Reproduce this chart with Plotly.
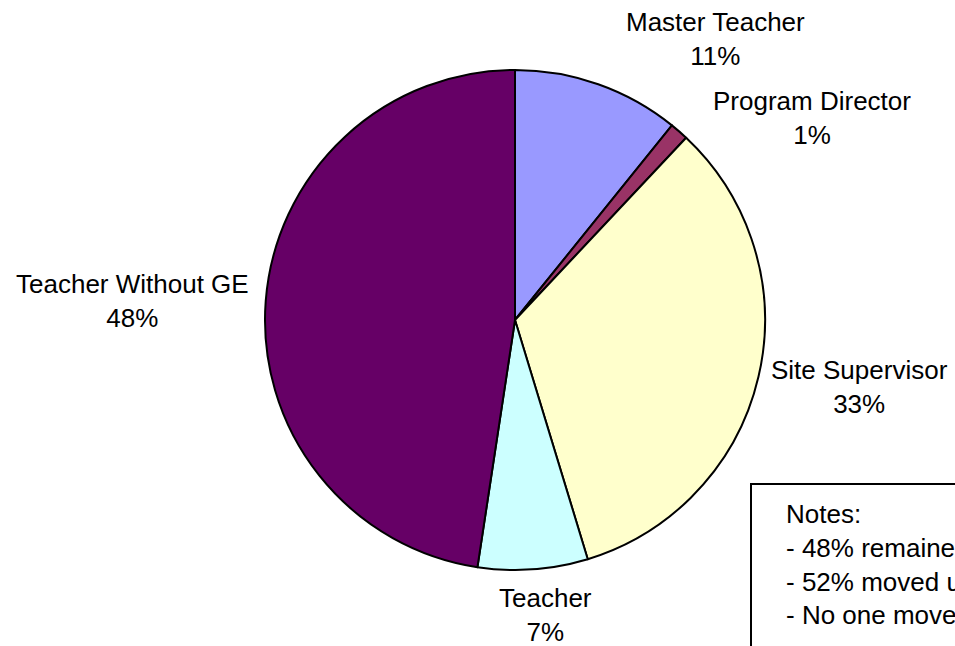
import plotly.graph_objects as go

# Data
categories = ["Master Teacher", "Program Director", "Site Supervisor", "Teacher", "Teacher Without GE"]
shares = [10.8, 1.2, 33.3, 7.1, 47.6]
colors = ["#9999FF", "#993366", "#FFFFCC", "#CCFFFF", "#660066"]
notes_lines = ["Notes:", "- 48% remained in the same position", "- 52% moved up", "- No one moved down"]

W, H = 955, 646
# label centres (pixels) as placed in the reference
label_pos = [(715, 39), (812, 118), (859, 387), (545, 615), (132, 301)]

cx, cy, r = 515, 320, 250

fig = go.Figure(go.Pie(
    labels=categories,
    values=shares,
    sort=False,
    direction="clockwise",
    rotation=0,
    textinfo="none",
    hoverinfo="label+percent",
    marker=dict(colors=colors, line=dict(color="black", width=2)),
    domain=dict(x=[(cx - r) / W, (cx + r) / W], y=[(H - cy - r) / H, (H - cy + r) / H]),
    showlegend=False,
))

total = sum(shares)
font = dict(family="Liberation Sans, Arial, sans-serif", size=26, color="black")
annotations = []
for name, v, (px, py) in zip(categories, shares, label_pos):
    annotations.append(dict(
        x=px / W, y=1 - py / H, xref="paper", yref="paper",
        text=f"{name}<br>{round(100 * v / total)}%",
        showarrow=False, xanchor="center", yanchor="middle", align="center", font=font,
    ))

annotations.append(dict(
    x=784 / W, y=1 - 497 / H, xref="paper", yref="paper",
    text="<br>".join(notes_lines), showarrow=False, xanchor="left", yanchor="top",
    align="left", font=font,
))

fig.update_layout(
    width=W, height=H,
    margin=dict(l=0, r=0, t=0, b=0),
    paper_bgcolor="white", plot_bgcolor="white",
    annotations=annotations,
    shapes=[dict(type="rect", xref="paper", yref="paper",
                 x0=751 / W, x1=1.3, y0=-0.3, y1=1 - 484 / H,
                 line=dict(color="black", width=2), fillcolor="white", layer="below")],
)

fig.write_html("out.html", config={"displayModeBar": False},
               post_script="document.body.style.margin='0';document.body.style.overflow='hidden';")
